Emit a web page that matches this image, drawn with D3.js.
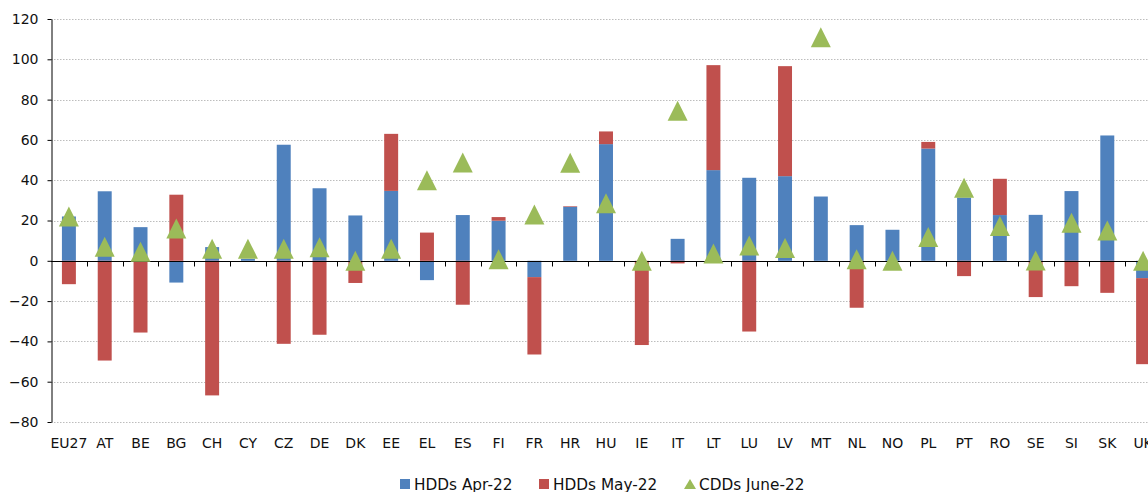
<!DOCTYPE html>
<html>
<head>
<meta charset="utf-8">
<script src="https://cdn.jsdelivr.net/npm/d3@7"></script>
<style>
  body { margin: 0; background: #fff; }
  svg { display: block; font-family: "DejaVu Sans", sans-serif; }
  .grid line { stroke: #bdbdbd; stroke-dasharray: 1.5 1.5; }
</style>
</head>
<body>
<svg id="chart" width="1148" height="492"></svg>
<script>
// values
const categories = ["EU27", "AT", "BE", "BG", "CH", "CY", "CZ", "DE", "DK", "EE", "EL", "ES", "FI", "FR", "HR",
  "HU", "IE", "IT", "LT", "LU", "LV", "MT", "NL", "NO", "PL", "PT", "RO", "SE", "SI", "SK", "UK"]
const hddApr = [22, 34.5, 16.7, -10.8, 6.8, 1, 57.6, 36, 22.5, 34.7, -9.6, 22.7, 19.9, -8.1, 26.8,
  57.9, 0, 10.9, 45, 41.2, 42, 31.9, 17.7, 15.4, 55.7, 31.4, 22.7, 22.8, 34.6, 62.2, -8.6]
const hddMay = [-11.6, -49.5, -35.6, 32.8, -66.8, 0, -41.2, -36.7, -11, 28.3, 14, -21.8, 1.8, -38.4, 0.3,
  6.3, -41.8, -1.3, 52.1, -35.1, 54.6, 0, -23.3, 0, 3.3, -7.6, 18, -18, -12.6, -15.9, -42.7]
const cddJun = [22, 7, 4.5, 16, 6, 6, 6, 6.7, 0, 6, 40, 48.8, 0.8, 23, 48.6,
  28.6, 0, 74.5, 3.6, 7.6, 6.4, 111, 0.8, 0, 11.8, 36.2, 17.3, 0.2, 18.9, 15, 0]
const yTicks = [-80, -60, -40, -20, 0, 20, 40, 60, 80, 100, 120]
const seriesNames = ["HDDs Apr-22", "HDDs May-22", "CDDs June-22"]

const colors = { apr: "#4f81bd", may: "#c0504d", jun: "#9bbb59" }

const svg = d3.select("#chart")
const mLeft = 51, mRight = 1161, mTop = 19, mBottom = 422

const x = d3.scaleBand().domain(categories).range([mLeft, mRight]).paddingInner(0.61).paddingOuter(0.305)
const y = d3.scaleLinear().domain([-80, 120]).range([mBottom, mTop])

// gridlines
svg.append("g").attr("class", "grid")
  .selectAll("line").data(yTicks.filter(d => d !== 0)).enter()
  .append("line")
  .attr("x1", mLeft).attr("x2", 1148)
  .attr("y1", d => Math.round(y(d)) + 0.5).attr("y2", d => Math.round(y(d)) + 0.5)

// stacked bars (negatives stack downward)
const rows = categories.map((c, i) => ({ cat: c, apr: hddApr[i], may: hddMay[i] }))
const stack = d3.stack().keys(["apr", "may"]).offset(d3.stackOffsetDiverging)
const layers = stack(rows)

svg.append("g").selectAll("g").data(layers).enter()
  .append("g").attr("fill", d => colors[d.key])
  .selectAll("rect").data(d => d).enter()
  .append("rect")
  .attr("x", d => x(d.data.cat))
  .attr("width", x.bandwidth())
  .attr("y", d => y(Math.max(d[0], d[1])))
  .attr("height", d => Math.abs(y(d[0]) - y(d[1])))

// zero axis with category ticks
const zy = Math.round(y(0)) + 0.5
const xAxis = svg.append("g")
xAxis.append("line").attr("x1", mLeft).attr("x2", mRight).attr("y1", zy).attr("y2", zy)
  .attr("stroke", "#000").attr("stroke-width", 1.2)
xAxis.selectAll(".tk").data(categories.slice(1)).enter()
  .append("line")
  .attr("x1", d => Math.round(x(d) - x.step() * x.paddingInner() / 2) + 0.5)
  .attr("x2", d => Math.round(x(d) - x.step() * x.paddingInner() / 2) + 0.5)
  .attr("y1", zy).attr("y2", zy + 5)
  .attr("stroke", "#000")

// category labels (UK runs off the right edge, as in the original)
svg.append("g").selectAll("text").data(categories).enter()
  .append("text")
  .attr("x", d => x(d) + x.bandwidth() / 2)
  .attr("y", 448)
  .attr("text-anchor", "middle")
  .attr("font-size", 14)
  .attr("fill", "#111")
  .text(d => d)

// y axis
const yAxis = svg.append("g").attr("transform", `translate(${mLeft + 0.5},0)`)
  .call(d3.axisLeft(y).tickValues(yTicks).tickSize(4).tickSizeOuter(0).tickPadding(9))
yAxis.select(".domain").attr("stroke", "#000")
yAxis.selectAll(".tick line").attr("stroke", "#000")
yAxis.selectAll(".tick text").attr("font-size", 14).attr("fill", "#111")
  .attr("font-family", "DejaVu Sans, sans-serif")

// triangles for CDDs
const tri = d3.line()([[-10, 10], [0, -10], [10, 10]]) + "Z"
svg.append("g").selectAll("path").data(cddJun).enter()
  .append("path")
  .attr("d", tri)
  .attr("transform", (d, i) => `translate(${x(categories[i]) + x.bandwidth() / 2},${y(d)})`)
  .attr("fill", colors.jun)

// legend
const legend = svg.append("g").attr("font-size", 15.3).attr("fill", "#111")
const lg = [
  { name: seriesNames[0], c: colors.apr, x: 400, shape: "sq" },
  { name: seriesNames[1], c: colors.may, x: 539, shape: "sq" },
  { name: seriesNames[2], c: colors.jun, x: 684, shape: "tri" }
]
lg.forEach(d => {
  if (d.shape === "sq") {
    legend.append("rect").attr("x", d.x).attr("y", 479).attr("width", 10).attr("height", 10).attr("fill", d.c)
    legend.append("text").attr("x", d.x + 14).attr("y", 489.5).text(d.name)
  } else {
    legend.append("path").attr("d", d3.line()([[0, 10], [6, 0], [12, 10]]) + "Z")
      .attr("transform", `translate(${d.x},479)`).attr("fill", d.c)
    legend.append("text").attr("x", d.x + 15).attr("y", 489.5).text(d.name)
  }
})
</script>
</body>
</html>
